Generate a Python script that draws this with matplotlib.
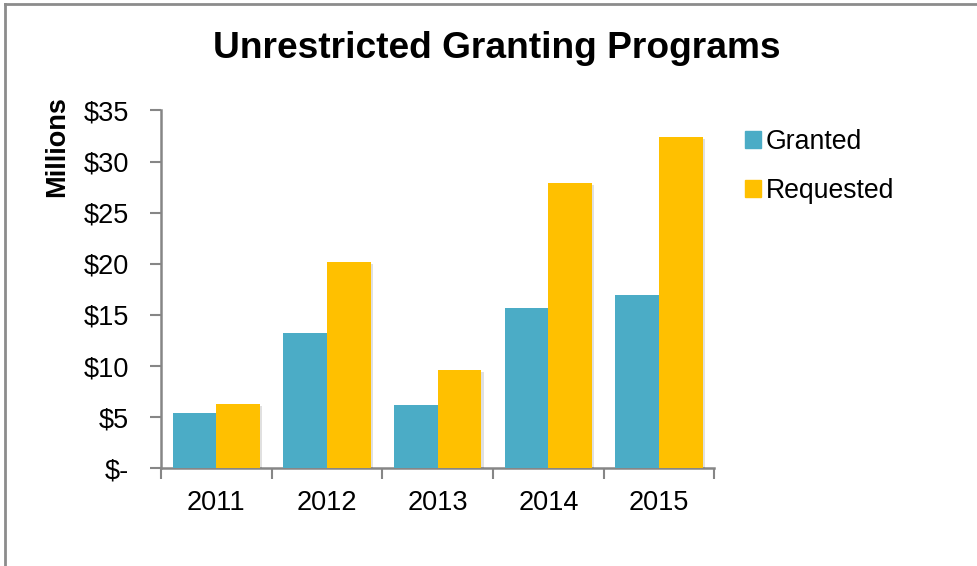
import matplotlib.pyplot as plt
import matplotlib.patheffects as pe
from matplotlib.lines import Line2D
from matplotlib.patches import Patch
from matplotlib.ticker import FuncFormatter
import numpy as np

plt.rcParams['font.family'] = ['Liberation Sans', 'DejaVu Sans']

years = ["2011", "2012", "2013", "2014", "2015"]
granted = [5.42, 13.21, 6.17, 15.65, 16.95]
requested = [6.34, 20.22, 9.65, 27.95, 32.37]

teal = "#4BACC6"
gold = "#FFC000"
axis_grey = "#868686"

fig = plt.figure(figsize=(9.77, 5.66), dpi=100)
ax = fig.add_axes([0.1648, 0.1724, 0.5665, 0.6325])

x = np.arange(len(years))
w = 0.395
shadow = [pe.SimplePatchShadow(offset=(1.5, -1.5), shadow_rgbFace="#000000", alpha=0.12), pe.Normal()]
b1 = ax.bar(x - w / 2, granted, w, color=teal, zorder=3)
b2 = ax.bar(x + w / 2, requested, w, color=gold, zorder=3)
for b in list(b1) + list(b2):
    b.set_path_effects(shadow)

ax.set_xlim(-0.5, len(years) - 0.5)
ax.set_ylim(0, 35)
ax.set_yticks(np.arange(0, 36, 5))
ax.yaxis.set_major_formatter(FuncFormatter(lambda v, p: "$-" if v == 0 else f"${v:.0f}"))

# category labels centred, tick marks on the category boundaries
ax.set_xticks(x)
ax.set_xticklabels(years)
ax.set_xticks(np.arange(-0.5, len(years)), minor=True)
ax.tick_params(axis="x", which="major", length=0, pad=15.5, labelsize=19.5)
ax.tick_params(axis="x", which="minor", length=8, width=1.5, color=axis_grey)
ax.tick_params(axis="y", length=8, width=1.5, color=axis_grey, pad=15, labelsize=19.5)

for s in ["top", "right"]:
    ax.spines[s].set_visible(False)
for s in ["left", "bottom"]:
    ax.spines[s].set_color(axis_grey)
    ax.spines[s].set_linewidth(1.8)

ax.set_ylabel("Millions", fontsize=19.5, fontweight="bold")
ax.yaxis.set_label_coords(-0.164, 0.899)

fig.text(0.508, 0.914, "Unrestricted Granting Programs", ha="center", va="center",
         fontsize=26.7, fontweight="bold")

handles = [Patch(color=teal), Patch(color=gold)]
fig.legend(handles, ["Granted", "Requested"], loc="upper left",
           bbox_to_anchor=(0.763, 0.772), frameon=False, fontsize=19.2,
           handlelength=0.6, handleheight=0.6, handletextpad=0.15,
           labelspacing=0.85, borderaxespad=0, borderpad=0)

# outer chart frame (only top and left edges are in view)
fig.add_artist(Line2D([0.005, 1.0], [0.9925, 0.9925], color="#8c8c8c", lw=2))
fig.add_artist(Line2D([0.0055, 0.0055], [0.0, 0.9925], color="#8c8c8c", lw=2))

fig.savefig("out.png", dpi=100)
